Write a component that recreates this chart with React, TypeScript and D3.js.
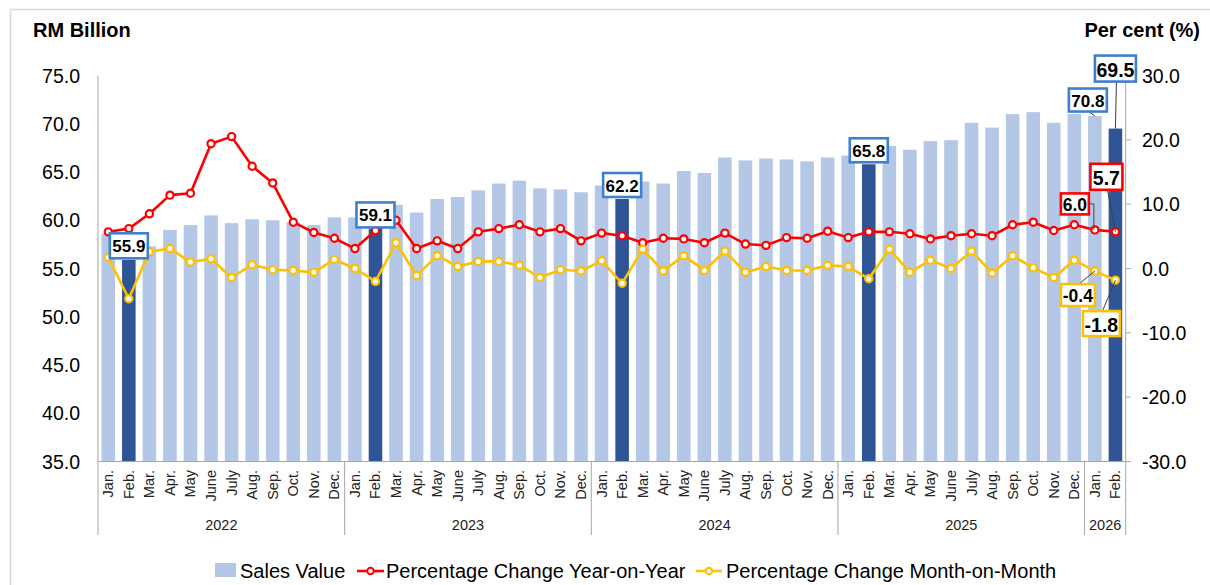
import React from "react";
import * as d3 from "d3";

const months = ["Jan.", "Feb.", "Mar.", "Apr.", "May", "June", "July", "Aug.", "Sep.", "Oct.", "Nov.", "Dec."];
const years = ["2022", "2023", "2024", "2025", "2026"];
const monthsPerYear = [12, 12, 12, 12, 2];

const salesValue = [
  58.6, 55.9, 57.3, 59.0, 59.5, 60.5, 59.7, 60.1, 60.0, 59.8, 59.5, 60.3,
  60.3, 59.1, 61.6, 60.8, 62.2, 62.4, 63.1, 63.8, 64.1, 63.3, 63.2, 62.9,
  63.6, 62.2, 64.0, 63.8, 65.1, 64.9, 66.5, 66.2, 66.4, 66.3, 66.1, 66.5,
  66.7, 65.8, 67.7, 67.3, 68.2, 68.3, 70.1, 69.6, 71.0, 71.2, 70.1, 71.0,
  70.8, 69.5,
];
const yoy = [
  5.7, 6.2, 8.5, 11.4, 11.7, 19.4, 20.5, 15.9, 13.3, 7.2, 5.6, 4.7,
  3.1, 5.9, 7.5, 3.1, 4.3, 3.1, 5.7, 6.2, 6.8, 5.7, 6.2, 4.3,
  5.5, 5.1, 4.0, 4.7, 4.6, 4.0, 5.5, 3.8, 3.6, 4.8, 4.7, 5.8,
  4.8, 5.7, 5.7, 5.4, 4.6, 5.1, 5.4, 5.1, 6.8, 7.2, 5.9, 6.8,
  6.0, 5.7,
];
const mom = [
  1.7, -4.7, 2.6, 3.1, 1.0, 1.5, -1.4, 0.6, -0.2, -0.3, -0.6, 1.4,
  0.0, -2.0, 4.0, -1.1, 2.0, 0.3, 1.1, 1.1, 0.5, -1.4, -0.2, -0.4,
  1.2, -2.3, 3.0, -0.4, 2.0, -0.3, 2.7, -0.6, 0.3, -0.3, -0.3, 0.5,
  0.3, -1.6, 3.0, -0.6, 1.3, 0.0, 2.7, -0.7, 2.0, 0.1, -1.4, 1.3,
  -0.4, -1.8,
];
const leftTicks = [35, 40, 45, 50, 55, 60, 65, 70, 75];
const rightTicks = [-30, -20, -10, 0, 10, 20, 30];

type Cat = { key: string; month: string; year: string; idx: number };
const cats: Cat[] = [];
years.forEach((y, yi) => {
  for (let m = 0; m < monthsPerYear[yi]; m++) {
    cats.push({ key: `${y}-${m}`, month: months[m], year: y, idx: cats.length });
  }
});

const FONT = "Arial, 'Liberation Sans', sans-serif";
const LIGHT = "#B4C7E7";
const DARK = "#2F5597";
const RED = "#FF0000";
const YEL = "#FFC000";
const BLUE_BOX = "#3F7FCF";

type Ann = {
  idx: number;
  series: "bar" | "yoy" | "mom";
  dx: number;
  dy: number;
  w: number;
  h: number;
  fs: number;
  leader?: "none" | "straight" | "elbow";
};

const annotations: Ann[] = [
  { idx: 1, series: "bar", dx: 0, dy: -14, w: 38, h: 25, fs: 17, leader: "none" },
  { idx: 13, series: "bar", dx: 0, dy: -14, w: 38, h: 25, fs: 17, leader: "none" },
  { idx: 25, series: "bar", dx: 0, dy: -14, w: 38, h: 24, fs: 17, leader: "none" },
  { idx: 37, series: "bar", dx: 0, dy: -14, w: 38, h: 24, fs: 17, leader: "none" },
  { idx: 48, series: "bar", dx: -7, dy: -16, w: 38, h: 23, fs: 17, leader: "straight" },
  { idx: 49, series: "bar", dx: 0, dy: -60, w: 41, h: 26, fs: 19.5, leader: "straight" },
  { idx: 48, series: "yoy", dx: -20, dy: -26, w: 28, h: 21, fs: 17.5, leader: "elbow" },
  { idx: 49, series: "yoy", dx: -9, dy: -55, w: 32, h: 26, fs: 19.5, leader: "straight" },
  { idx: 48, series: "mom", dx: -17, dy: 24, w: 34, h: 22, fs: 17.5, leader: "straight" },
  { idx: 49, series: "mom", dx: -14, dy: 43.5, w: 37, h: 25, fs: 19.5, leader: "straight" },
];

export default function App() {
  const W = 1210;
  const H = 585;
  const x0 = 98;
  const x1 = 1125.7;
  const yTop = 75.5;
  const yBot = 461.5;

  const x = d3.scaleBand<string>().domain(cats.map((c) => c.key)).range([x0, x1]).paddingInner(0.34).paddingOuter(0.17);
  const step = x.step();
  const cx = (i: number) => (x(cats[i].key) as number) + x.bandwidth() / 2;
  const yL = d3.scaleLinear().domain([35, 75]).range([yBot, yTop]);
  const yR = d3.scaleLinear().domain([-30, 30]).range([yBot, yTop]);

  const lineYoy = d3.line<number>().x((_, i) => cx(i)).y((d) => yR(d));
  const lineMom = d3.line<number>().x((_, i) => cx(i)).y((d) => yR(d));

  const seps: number[] = [];
  let acc = 0;
  const yearCenters: { y: string; c: number }[] = [];
  years.forEach((yy, yi) => {
    const start = x0 + acc * step;
    seps.push(start);
    const end = x0 + (acc + monthsPerYear[yi]) * step;
    yearCenters.push({ y: yy, c: (start + end) / 2 });
    acc += monthsPerYear[yi];
  });
  seps.push(x1);

  const pointOf = (a: Ann) => {
    const px = cx(a.idx);
    let py = 0;
    if (a.series === "bar") py = yL(salesValue[a.idx]);
    if (a.series === "yoy") py = yR(yoy[a.idx]);
    if (a.series === "mom") py = yR(mom[a.idx]);
    return { px, py };
  };
  const valueOf = (a: Ann) =>
    a.series === "bar" ? salesValue[a.idx] : a.series === "yoy" ? yoy[a.idx] : mom[a.idx];
  const colorOf = (a: Ann) => (a.series === "bar" ? BLUE_BOX : a.series === "yoy" ? RED : YEL);

  return (
    <svg width={W} height={H} style={{ position: "absolute", left: 0, top: 0, background: "#fff" }} fontFamily={FONT}>
      <rect x={10.5} y={9.5} width={1210} height={600} fill="#fff" stroke="#D9D9D9" strokeWidth={1.5} />

      <text x={33} y={37} fontSize={20} fontWeight="bold" fill="#000">RM Billion</text>
      <text x={1200} y={37} fontSize={20} fontWeight="bold" fill="#000" textAnchor="end">Per cent (%)</text>

      {leftTicks.map((t) => (
        <text key={"l" + t} x={80} y={yL(t)} fontSize={19.5} textAnchor="end" dominantBaseline="central" fill="#000">
          {t.toFixed(1)}
        </text>
      ))}
      {rightTicks.map((t) => (
        <g key={"r" + t}>
          <line x1={x1} x2={x1 + 5} y1={yR(t)} y2={yR(t)} stroke="#A6A6A6" strokeWidth={1} />
          <text x={1142} y={yR(t)} fontSize={19.5} dominantBaseline="central" fill="#000">
            {t.toFixed(1)}
          </text>
        </g>
      ))}

      {cats.map((c, i) => (
        <rect
          key={c.key}
          x={x(c.key)}
          y={yL(salesValue[i])}
          width={x.bandwidth()}
          height={yBot - yL(salesValue[i])}
          fill={c.month === "Feb." ? DARK : LIGHT}
        />
      ))}

      <line x1={x0} x2={x0} y1={yTop} y2={yBot} stroke="#A6A6A6" strokeWidth={1} />
      <line x1={x1} x2={x1} y1={yTop} y2={yBot} stroke="#A6A6A6" strokeWidth={1} />
      <line x1={x0} x2={x1} y1={yBot} y2={yBot} stroke="#A6A6A6" strokeWidth={1.2} />
      {seps.map((s, i) => (
        <line key={"s" + i} x1={s} x2={s} y1={yBot} y2={535} stroke="#A6A6A6" strokeWidth={1} />
      ))}

      {cats.map((c, i) => (
        <text
          key={"m" + c.key}
          transform={`translate(${cx(i)},${470}) rotate(-90)`}
          fontSize={14.5}
          textAnchor="end"
          dominantBaseline="central"
          fill="#222"
        >
          {c.month}
        </text>
      ))}
      {yearCenters.map((yc) => (
        <text key={"y" + yc.y} x={yc.c} y={525} fontSize={14.5} textAnchor="middle" dominantBaseline="central" fill="#222">
          {yc.y}
        </text>
      ))}

      <path d={lineYoy(yoy) || ""} fill="none" stroke={RED} strokeWidth={2.6} strokeLinejoin="round" />
      {yoy.map((v, i) => (
        <circle key={"yo" + i} cx={cx(i)} cy={yR(v)} r={3.6} fill="#fff" stroke={RED} strokeWidth={2.2} />
      ))}
      <path d={lineMom(mom) || ""} fill="none" stroke={YEL} strokeWidth={2.6} strokeLinejoin="round" />
      {mom.map((v, i) => (
        <circle key={"mo" + i} cx={cx(i)} cy={yR(v)} r={3.6} fill="#fff" stroke={YEL} strokeWidth={2.2} />
      ))}

      {annotations.map((a, k) => {
        const { px, py } = pointOf(a);
        const bx = px + a.dx;
        const by = py + a.dy;
        let leader: React.ReactNode = null;
        if (a.leader === "straight") {
          const ey = a.dy < 0 ? by + a.h / 2 : by - a.h / 2;
          leader = <line x1={bx + 1} y1={ey} x2={px} y2={py} stroke="#404040" strokeWidth={1} />;
        } else if (a.leader === "elbow") {
          leader = (
            <polyline
              points={`${bx + a.w / 2},${by} ${px - 1},${by} ${px - 1},${py}`}
              fill="none"
              stroke="#404040"
              strokeWidth={1}
            />
          );
        }
        return (
          <g key={"a" + k}>
            {leader}
            <rect
              x={bx - a.w / 2}
              y={by - a.h / 2}
              width={a.w}
              height={a.h}
              fill="#fff"
              stroke={colorOf(a)}
              strokeWidth={2.6}
            />
            <text x={bx} y={by + 1} fontSize={a.fs} fontWeight="bold" textAnchor="middle" dominantBaseline="central" fill="#000">
              {valueOf(a).toFixed(1)}
            </text>
          </g>
        );
      })}

      <rect x={215} y={563} width={21} height={14} fill={LIGHT} />
      <text x={240} y={571} fontSize={20} dominantBaseline="central" fill="#000">Sales Value</text>
      <line x1={357} x2={384} y1={571} y2={571} stroke={RED} strokeWidth={2.6} />
      <circle cx={370.5} cy={571} r={3.2} fill="#fff" stroke={RED} strokeWidth={2} />
      <text x={386} y={571} fontSize={20} dominantBaseline="central" fill="#000">Percentage Change Year-on-Year</text>
      <line x1={696} x2={722} y1={571} y2={571} stroke={YEL} strokeWidth={2.6} />
      <circle cx={709} cy={571} r={3.2} fill="#fff" stroke={YEL} strokeWidth={2} />
      <text x={726} y={571} fontSize={20} dominantBaseline="central" fill="#000">Percentage Change Month-on-Month</text>
    </svg>
  );
}
